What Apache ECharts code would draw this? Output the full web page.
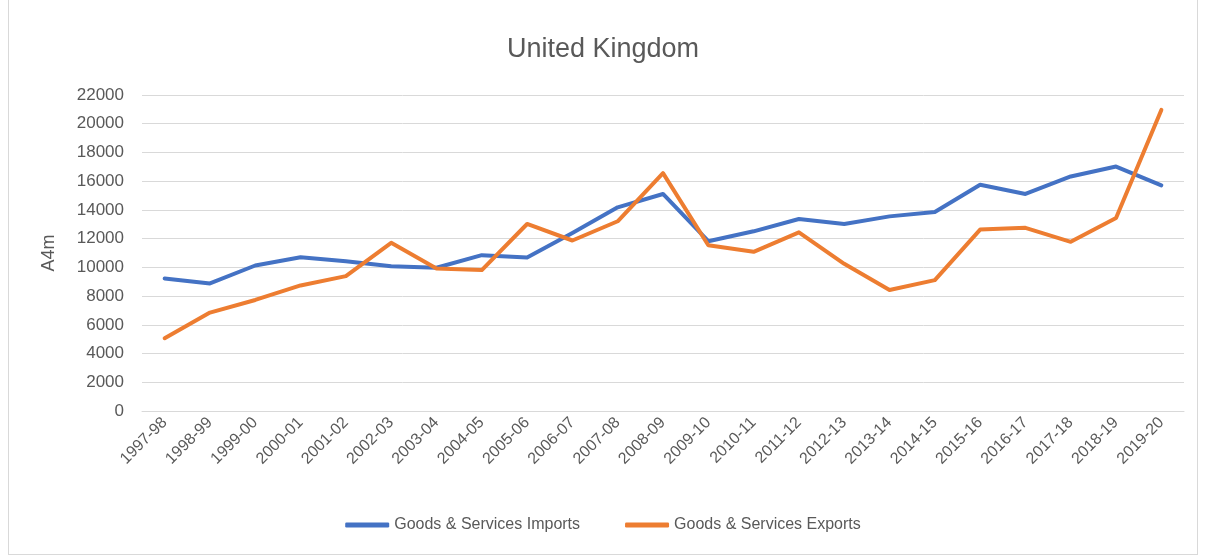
<!DOCTYPE html>
<html>
<head>
<meta charset="utf-8">
<script src="https://cdn.jsdelivr.net/npm/echarts@6/dist/echarts.min.js"></script>
<style>
  html, body { margin: 0; padding: 0; background: #fff; }
  #chart { position: absolute; left: 8px; top: 0; width: 1190px; height: 555px; border: 1px solid #d9d9d9; border-top: none; box-sizing: border-box; }
</style>
</head>
<body>
<div id="chart"></div>
<script>
'use strict';

var years = ['1997-98','1998-99','1999-00','2000-01','2001-02','2002-03','2003-04','2004-05',
  '2005-06','2006-07','2007-08','2008-09','2009-10','2010-11','2011-12','2012-13','2013-14',
  '2014-15','2015-16','2016-17','2017-18','2018-19','2019-20'];

var imports = [9230, 8880, 10130, 10710, 10430, 10080, 9970, 10850, 10690, 12400, 14180,
  15110, 11820, 12510, 13370, 13020, 13550, 13860, 15750, 15110, 16330, 17020, 15710];

var exports = [5070, 6850, 7730, 8740, 9390, 11710, 9920, 9810, 13020, 11870, 13210,
  16560, 11540, 11080, 12440, 10250, 8420, 9110, 12630, 12750, 11780, 13440, 20960];

var font = 'Liberation Sans';
var grey = '#595959';

var myChart = echarts.init(document.getElementById('chart'));
var option = {
  animation: false,
  title: {
    text: 'United Kingdom',
    left: 'center',
    top: 31,
    textStyle: { fontFamily: font, fontSize: 27, fontWeight: 'normal', color: grey }
  },
  legend: {
    bottom: 16,
    left: 'center',
    itemWidth: 44,
    itemHeight: 5,
    itemGap: 45,
    icon: 'roundRect',
    textStyle: { fontFamily: font, fontSize: 16, color: grey },
    data: ['Goods & Services Imports', 'Goods & Services Exports']
  },
  grid: { left: 133, right: 13, top: 95, bottom: 143 },
  xAxis: {
    type: 'category',
    data: years,
    boundaryGap: true,
    axisLine: { lineStyle: { color: '#d9d9d9' } },
    axisTick: { show: false },
    axisLabel: { rotate: 45, interval: 0, fontFamily: font, fontSize: 16, color: grey, margin: 9 }
  },
  yAxis: {
    type: 'value',
    min: 0,
    max: 22000,
    interval: 2000,
    name: 'A4m',
    nameLocation: 'middle',
    nameRotate: 90,
    nameGap: 84,
    nameTextStyle: { fontFamily: font, fontSize: 18, color: grey },
    axisLine: { show: false },
    axisTick: { show: false },
    axisLabel: { fontFamily: font, fontSize: 17, color: grey, margin: 18, formatter: function (v) { return String(v); } },
    splitLine: { lineStyle: { color: '#d9d9d9', width: 1 } }
  },
  series: [
    {
      name: 'Goods & Services Imports',
      type: 'line',
      data: imports,
      symbol: 'none',
      lineStyle: { width: 4, color: '#4472C4', cap: 'round', join: 'round' },
      itemStyle: { color: '#4472C4' }
    },
    {
      name: 'Goods & Services Exports',
      type: 'line',
      data: exports,
      symbol: 'none',
      lineStyle: { width: 4, color: '#ED7D31', cap: 'round', join: 'round' },
      itemStyle: { color: '#ED7D31' }
    }
  ]
};
myChart.setOption(option);
</script>
</body>
</html>
